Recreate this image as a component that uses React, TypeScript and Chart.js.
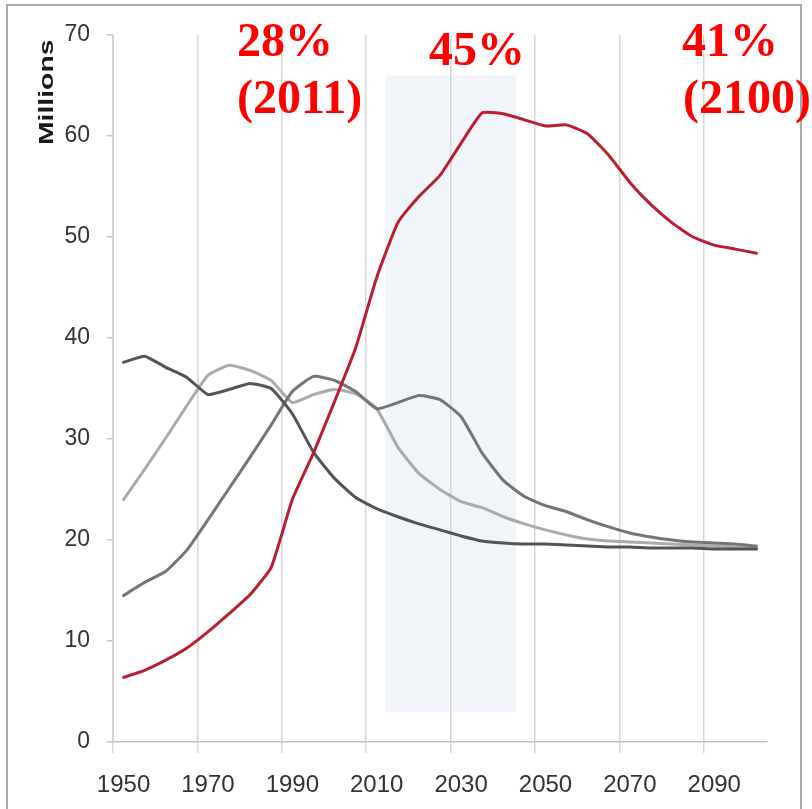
import React, { useEffect, useRef } from 'react';
import { Chart, registerables } from 'chart.js';

Chart.register(...registerables);

// ---- data (millions) ----
const years = [
  '1950', '1955', '1960', '1965', '1970', '1975', '1980', '1985', '1990', '1995',
  '2000', '2005', '2010', '2015', '2020', '2025', '2030', '2035', '2040', '2045',
  '2050', '2055', '2060', '2065', '2070', '2075', '2080', '2085', '2090', '2095', '2100',
];

const redSeries = [
  6.4, 7.1, 8.1, 9.3, 10.9, 12.7, 14.6, 17.3, 24.0, 28.6,
  33.7, 39.0, 46.0, 51.4, 54.0, 56.1, 59.3, 62.3, 62.2, 61.6,
  61.0, 61.1, 60.2, 58.1, 55.4, 53.2, 51.4, 50.0, 49.2, 48.8, 48.4,
];

const darkSeries = [
  37.6, 38.2, 37.1, 36.1, 34.4, 34.9, 35.5, 35.0, 32.5, 28.7,
  26.1, 24.2, 23.1, 22.3, 21.6, 21.0, 20.4, 19.9, 19.7, 19.6,
  19.6, 19.5, 19.4, 19.3, 19.3, 19.2, 19.2, 19.2, 19.1, 19.1, 19.1,
];

const midSeries = [
  14.5, 15.8, 16.9, 19.0, 22.0, 25.1, 28.2, 31.4, 34.7, 36.2,
  35.8, 34.7, 33.0, 33.6, 34.3, 33.9, 32.2, 28.6, 25.9, 24.3,
  23.4, 22.8, 22.0, 21.3, 20.7, 20.3, 20.0, 19.8, 19.7, 19.6, 19.4,
];

const lightSeries = [
  24.0, 27.0, 30.1, 33.3, 36.3, 37.3, 36.8, 35.8, 33.6, 34.4,
  34.9, 34.5, 33.0, 29.2, 26.6, 25.0, 23.8, 23.2, 22.3, 21.6,
  21.0, 20.5, 20.1, 19.9, 19.8, 19.7, 19.6, 19.5, 19.4, 19.3, 19.2,
];

const yTickValues = [0, 10, 20, 30, 40, 50, 60, 70];
const xLabelEvery = 4;

// highlighted period (years) and its vertical extent (millions)
const shadeYears = [2012, 2043];
const shadeValues = [3, 66];

const annotationLines = [
  { text: '28%', x: 237, y: 56 },
  { text: '(2011)', x: 237, y: 113 },
  { text: '45%', x: 429, y: 65 },
  { text: '41%', x: 682, y: 56 },
  { text: '(2100)', x: 683, y: 113 },
];

const axisFamily = "'Liberation Sans', Arial, sans-serif";

export default function App() {
  const ref = useRef<HTMLCanvasElement>(null);

  useEffect(() => {
    const canvas = ref.current;
    if (!canvas) return;

    const yearToIndex = (yr: number) => (yr - Number(years[0])) / 5;

    const shadePlugin = {
      id: 'shade',
      beforeDraw(chart: any) {
        const { ctx } = chart;
        const xs = chart.scales.x;
        const ys = chart.scales.y;
        const x0 = xs.getPixelForValue(yearToIndex(shadeYears[0]));
        const x1 = xs.getPixelForValue(yearToIndex(shadeYears[1]));
        const y0 = ys.getPixelForValue(shadeValues[1]);
        const y1 = ys.getPixelForValue(shadeValues[0]);
        ctx.save();
        ctx.fillStyle = '#f1f4f9';
        ctx.fillRect(x0, y0, x1 - x0, y1 - y0);
        ctx.restore();
      },
    };

    const textPlugin = {
      id: 'texts',
      afterDraw(chart: any) {
        const { ctx } = chart;
        ctx.save();
        // y axis title
        ctx.translate(53, 145);
        ctx.rotate(-Math.PI / 2);
        ctx.scale(1.35, 1);
        ctx.font = "bold 21px 'Liberation Sans', Arial, sans-serif";
        ctx.fillStyle = '#1a1a1a';
        ctx.textAlign = 'left';
        ctx.textBaseline = 'alphabetic';
        ctx.fillText('Millions', 0, 0);
        ctx.restore();

        ctx.save();
        ctx.font = "bold 48px 'Liberation Serif', 'Times New Roman', serif";
        ctx.fillStyle = '#ff0000';
        ctx.textAlign = 'left';
        ctx.textBaseline = 'alphabetic';
        annotationLines.forEach((a) => ctx.fillText(a.text, a.x, a.y));
        ctx.restore();
      },
    };

    const chart = new Chart(canvas, {
      type: 'line',
      data: {
        labels: years,
        datasets: [
          { data: redSeries, borderColor: '#b91f30', borderWidth: 3 },
          { data: darkSeries, borderColor: '#545454', borderWidth: 3 },
          { data: midSeries, borderColor: '#757575', borderWidth: 3 },
          { data: lightSeries, borderColor: '#ababab', borderWidth: 3 },
        ],
      },
      options: {
        responsive: false,
        animation: false,
        devicePixelRatio: 1,
        layout: { padding: { top: 35, right: 45, bottom: 0, left: 0 } },
        plugins: {
          legend: { display: false },
          tooltip: { enabled: false },
        },
        elements: {
          point: { radius: 0, hoverRadius: 0 },
          line: { tension: 0.15, borderCapStyle: 'round', borderJoinStyle: 'round' },
        },
        scales: {
          x: {
            type: 'category',
            offset: true,
            grid: {
              offset: true,
              lineWidth: 1.5,
              tickLength: 11,
              color: (c: any) =>
                typeof c.index === 'number' && c.index % xLabelEvery === 0 ? '#d6d6d6' : 'rgba(0,0,0,0)',
            },
            border: { display: true, color: '#c4c4c4', width: 1.5 },
            ticks: {
              autoSkip: false,
              maxRotation: 0,
              minRotation: 0,
              padding: 18,
              color: '#333333',
              font: { family: axisFamily, size: 24 },
              callback: (_v: any, i: number) => (i % xLabelEvery === 0 ? years[i] : ''),
            },
            afterFit: (s: any) => {
              s.height = 67;
            },
          },
          y: {
            min: yTickValues[0],
            max: yTickValues[yTickValues.length - 1],
            afterBuildTicks: (s: any) => {
              s.ticks = yTickValues.map((v) => ({ value: v }));
            },
            grid: { drawOnChartArea: false, tickLength: 6, color: '#c4c4c4', lineWidth: 1.5 },
            border: { display: true, color: '#d0d0d0', width: 1 },
            ticks: {
              padding: 17,
              color: '#333333',
              font: { family: axisFamily, size: 23 },
            },
            afterFit: (s: any) => {
              s.width = 113;
            },
          },
        },
      },
      plugins: [shadePlugin, textPlugin],
    });

    return () => chart.destroy();
  }, []);

  return (
    <div
      style={{
        position: 'fixed',
        left: 0,
        top: 0,
        width: 812,
        height: 809,
        overflow: 'hidden',
        background: '#ffffff',
      }}
    >
      <div
        style={{
          position: 'absolute',
          left: 6,
          top: 4,
          width: 792,
          height: 900,
          borderLeft: '2px solid #a9a9a9',
          borderTop: '2px solid #a9a9a9',
          borderRight: '2px solid #a9a9a9',
        }}
      />
      <canvas
        ref={ref}
        width={812}
        height={809}
        style={{ position: 'absolute', left: 0, top: 0, display: 'block' }}
      />
    </div>
  );
}
